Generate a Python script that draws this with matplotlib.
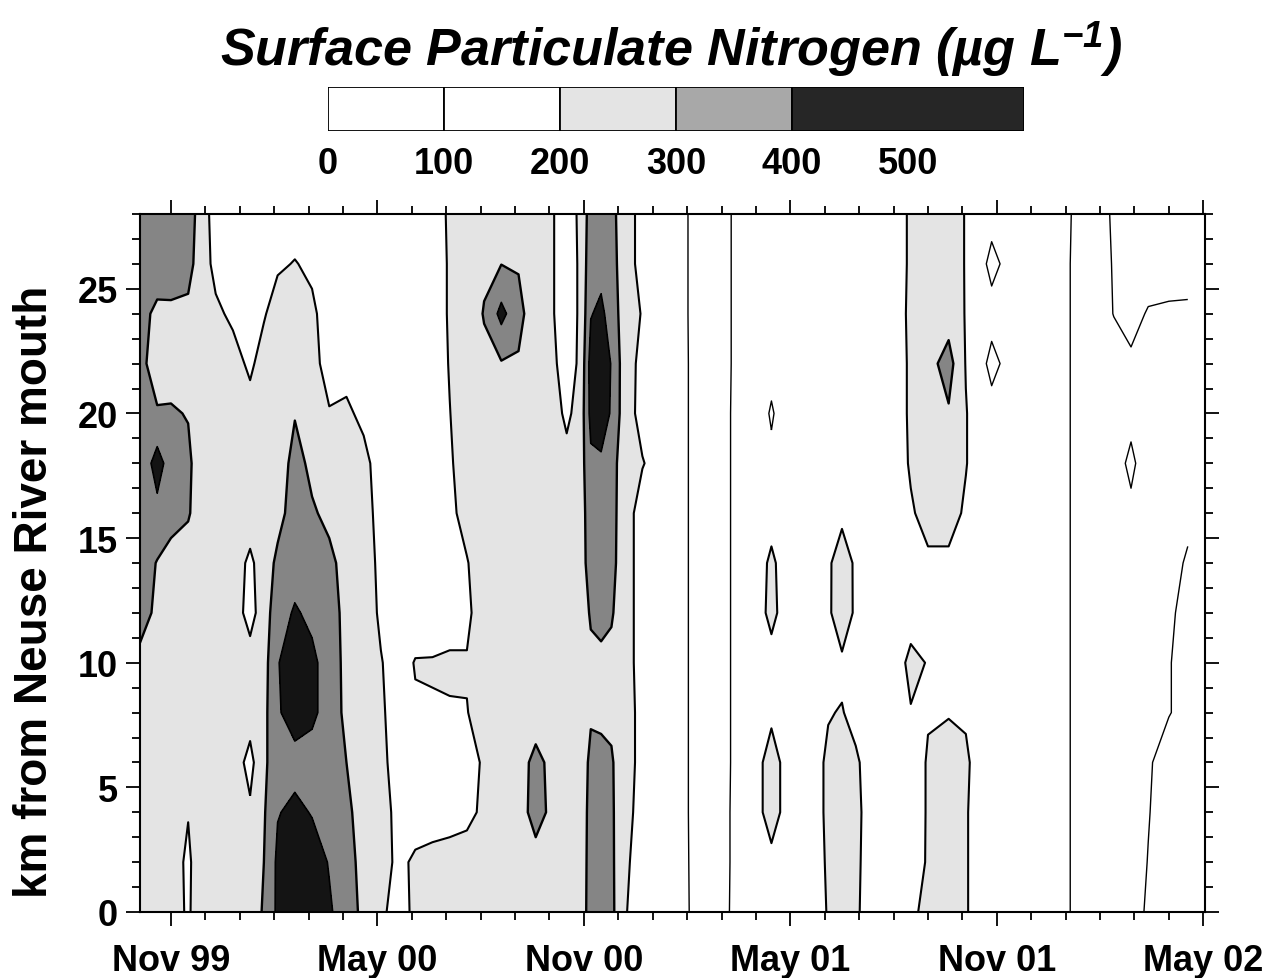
import numpy as np
import matplotlib
matplotlib.use('Agg')
import matplotlib.pyplot as plt
from matplotlib.ticker import MultipleLocator

plt.rcParams['font.family'] = ['Liberation Sans', 'DejaVu Sans']
plt.rcParams['mathtext.fontset'] = 'custom'
plt.rcParams['mathtext.rm'] = 'Liberation Sans:bold:italic'
plt.rcParams['mathtext.it'] = 'Liberation Sans:bold:italic'
plt.rcParams['mathtext.default'] = 'rm'

# survey dates, in months after 1 Nov 1999
months = [-0.9, -0.4, 0.0, 0.5, 0.8, 1.3, 1.8, 2.3, 2.7, 3.1, 3.6, 4.1, 4.6, 5.1, 5.6,
          6.1, 6.6, 7.1, 7.6, 8.1, 8.6, 9.1, 9.6, 10.1, 10.6, 11.1, 11.5, 11.9, 12.2,
          12.5, 12.8, 13.2, 13.7, 14.4, 15.1, 15.7, 16.3, 17.0, 17.45, 17.9, 18.5,
          19.1, 19.5, 19.9, 20.4, 21.0, 21.5, 22.0, 22.6, 23.1, 23.5, 23.85, 24.4,
          25.2, 26.1, 26.8, 27.4, 27.9, 28.4, 29.0, 29.55]

# stations, km from the river mouth
km = [0, 2, 4, 6, 8, 10, 12, 14, 16, 18, 20, 22, 24, 26, 28]

# surface PN (ug/L), one profile per survey, km 0 -> 28
profiles = [
    [250, 250, 250, 250, 250, 280, 330, 350, 360, 320, 330, 330, 330, 350, 360],
    [250, 250, 250, 250, 250, 255, 285, 295, 370, 445, 310, 250, 280, 350, 360],
    [250, 250, 250, 250, 250, 250, 250, 270, 330, 350, 310, 260, 285, 340, 350],
    [185, 180, 205, 250, 250, 250, 250, 250, 310, 320, 295, 250, 280, 330, 340],
    [250, 250, 250, 250, 250, 250, 250, 250, 260, 260, 255, 250, 250, 270, 280],
    [250, 250, 250, 250, 250, 250, 250, 250, 250, 250, 250, 250, 220, 170, 150],
    [250, 250, 250, 250, 250, 250, 250, 250, 250, 250, 250, 240, 180, 150, 150],
    [250, 250, 215, 170, 240, 240, 165, 180, 250, 250, 240, 180, 150, 150, 150],
    [310, 300, 290, 280, 270, 260, 250, 250, 250, 250, 250, 245, 190, 150, 150],
    [420, 420, 395, 360, 390, 395, 360, 320, 270, 250, 250, 250, 250, 185, 150],
    [480, 470, 420, 370, 440, 450, 410, 360, 340, 330, 295, 250, 250, 205, 150],
    [450, 440, 395, 360, 420, 420, 380, 340, 310, 280, 250, 225, 220, 180, 150],
    [410, 395, 370, 350, 360, 360, 345, 320, 280, 250, 205, 170, 150, 150, 150],
    [360, 340, 320, 300, 275, 270, 270, 270, 260, 250, 215, 170, 150, 150, 150],
    [270, 265, 260, 255, 250, 250, 250, 250, 240, 225, 180, 150, 150, 150, 150],
    [215, 230, 230, 225, 215, 205, 185, 175, 165, 160, 150, 150, 150, 150, 150],
    [170, 185, 180, 160, 155, 160, 150, 150, 150, 150, 150, 150, 150, 150, 150],
    [215, 210, 170, 160, 190, 205, 150, 150, 150, 150, 150, 150, 150, 150, 150],
    [240, 220, 170, 160, 195, 205, 160, 150, 150, 150, 150, 150, 150, 150, 150],
    [250, 225, 175, 165, 195, 210, 170, 165, 180, 190, 198, 205, 210, 210, 215],
    [250, 235, 180, 170, 198, 205, 185, 195, 230, 240, 245, 250, 250, 250, 250],
    [250, 250, 215, 210, 225, 250, 240, 250, 250, 250, 250, 280, 305, 285, 250],
    [260, 260, 260, 260, 260, 260, 260, 260, 260, 260, 260, 292, 430, 298, 260],
    [255, 255, 265, 270, 255, 250, 250, 250, 250, 250, 250, 290, 330, 292, 250],
    [250, 270, 330, 320, 265, 250, 250, 250, 250, 250, 245, 240, 240, 240, 240],
    [250, 260, 280, 280, 250, 250, 250, 250, 250, 250, 240, 220, 205, 205, 205],
    [250, 250, 250, 250, 250, 250, 250, 250, 250, 230, 180, 150, 150, 150, 150],
    [250, 250, 250, 250, 250, 250, 250, 250, 250, 255, 240, 220, 215, 215, 220],
    [340, 335, 330, 320, 290, 280, 310, 350, 360, 380, 430, 440, 395, 370, 350],
    [350, 345, 335, 320, 285, 285, 320, 360, 370, 385, 450, 460, 420, 370, 360],
    [325, 320, 315, 310, 280, 275, 310, 330, 335, 340, 390, 395, 360, 340, 330],
    [205, 215, 230, 240, 240, 240, 240, 240, 240, 240, 240, 240, 240, 240, 240],
    [160, 160, 165, 170, 170, 160, 160, 160, 160, 205, 170, 175, 195, 170, 170],
    [150, 150, 150, 150, 150, 150, 150, 150, 150, 150, 150, 150, 150, 150, 150],
    [97, 96, 95, 95, 95, 95, 95, 95, 95, 95, 95, 95, 94, 94, 94],
    [70, 70, 70, 70, 70, 70, 70, 70, 70, 70, 70, 70, 70, 70, 70],
    [104, 103, 103, 102, 102, 102, 102, 102, 102, 102, 102, 101, 101, 101, 101],
    [150, 150, 150, 150, 150, 150, 150, 150, 150, 150, 150, 150, 150, 150, 150],
    [150, 160, 265, 265, 170, 160, 230, 220, 160, 120, 90, 130, 150, 150, 150],
    [150, 150, 150, 150, 150, 150, 150, 150, 150, 150, 150, 150, 150, 150, 150],
    [150, 150, 150, 150, 150, 150, 150, 150, 150, 150, 150, 150, 150, 150, 150],
    [205, 210, 215, 215, 195, 170, 180, 180, 150, 150, 150, 150, 150, 150, 150],
    [265, 270, 270, 260, 205, 180, 270, 265, 170, 150, 150, 150, 150, 150, 150],
    [215, 220, 225, 215, 170, 165, 180, 180, 150, 150, 150, 150, 150, 150, 150],
    [150, 150, 150, 150, 150, 150, 150, 150, 150, 150, 150, 150, 150, 150, 150],
    [150, 150, 150, 150, 150, 150, 150, 150, 150, 150, 150, 150, 150, 150, 150],
    [185, 175, 170, 170, 195, 224, 160, 165, 190, 210, 215, 215, 220, 215, 215],
    [220, 205, 205, 205, 196, 195, 170, 185, 230, 250, 260, 265, 250, 245, 245],
    [240, 240, 240, 235, 195, 170, 165, 180, 240, 255, 290, 340, 255, 245, 245],
    [210, 210, 210, 220, 185, 160, 155, 160, 185, 205, 205, 195, 195, 195, 195],
    [150, 150, 150, 150, 150, 150, 150, 150, 150, 150, 150, 150, 150, 150, 150],
    [150, 150, 150, 150, 150, 150, 150, 150, 150, 150, 150, 60, 150, 60, 150],
    [150, 150, 150, 150, 150, 150, 150, 150, 150, 150, 150, 150, 150, 150, 150],
    [150, 150, 150, 150, 150, 150, 150, 150, 150, 150, 150, 150, 150, 150, 150],
    [102, 102, 102, 102, 102, 102, 102, 102, 102, 102, 102, 102, 102, 102, 102],
    [60, 60, 60, 60, 60, 60, 60, 60, 60, 60, 60, 60, 60, 60, 80],
    [60, 60, 60, 60, 60, 60, 60, 60, 60, 70, 60, 70, 102, 105, 105],
    [70, 70, 70, 70, 70, 70, 70, 70, 85, 115, 80, 90, 120, 130, 130],
    [110, 102, 97, 92, 80, 70, 70, 70, 70, 60, 65, 70, 95, 130, 130],
    [130, 130, 130, 130, 97, 97, 92, 85, 70, 65, 65, 70, 90, 130, 130],
    [130, 130, 125, 125, 120, 120, 115, 105, 90, 70, 70, 75, 90, 125, 130],
]

levels = [0, 100, 200, 300, 400, 1000]
fills = ['white', 'white', '#e4e4e4', '#858585', '#141414']
line_levels = [100, 200, 300, 400]
line_widths = [1.0, 1.5, 1.7, 1.2]

tick_months = [0, 6, 12, 18, 24, 30]
tick_labels = ['Nov 99', 'May 00', 'Nov 00', 'May 01', 'Nov 01', 'May 02']
cbar_edges = [0, 100, 200, 300, 400, 600]
cbar_fills = ['white', 'white', '#e4e4e4', '#a8a8a8', '#262626']
cbar_labels = [0, 100, 200, 300, 400, 500]

W, H = 1276, 979
fig = plt.figure(figsize=(W / 100, H / 100), dpi=100)
ax = fig.add_axes([140 / W, 1 - 913 / H, (1205 - 140) / W, (913 - 215) / H])

Z = np.array(profiles).T
ax.contourf(months, km, Z, levels=levels, colors=fills)
ax.contour(months, km, Z, levels=line_levels, colors='black', linewidths=line_widths)

ax.set_xlim(-0.9, 30.05)
ax.set_ylim(0, 28)
ax.set_xticks(tick_months)
ax.set_xticklabels(tick_labels, fontsize=26, fontweight='bold')
ax.xaxis.set_minor_locator(MultipleLocator(1))
ax.set_yticks(range(0, 26, 5))
ax.set_yticklabels([str(v) for v in range(0, 26, 5)], fontsize=26, fontweight='bold')
ax.yaxis.set_minor_locator(MultipleLocator(1))
ax.tick_params(which='both', direction='out', top=True, right=True, width=1.3)
ax.tick_params(which='major', length=10)
ax.tick_params(which='minor', length=5.5)
ax.tick_params(axis='x', which='major', pad=12)
ax.tick_params(axis='y', which='major', pad=6)
for s in ax.spines.values():
    s.set_linewidth(1.5)

fig.text(35 / W, 1 - 592 / H, 'km from Neuse River mouth', rotation=90,
         ha='center', va='center', fontsize=33, fontweight='bold')
fig.text(671 / W, 1 - 50 / H, 'Surface Particulate Nitrogen (\u00b5g L$^{-1}$)',
         ha='center', va='center', fontsize=37.5, fontweight='bold', fontstyle='italic')

# legend bar
cax = fig.add_axes([328 / W, 1 - 132 / H, (1024 - 328) / W, 44 / H])
for i in range(len(cbar_edges) - 1):
    cax.bar(cbar_edges[i], 1, width=cbar_edges[i + 1] - cbar_edges[i], align='edge',
            color=cbar_fills[i], edgecolor='black', linewidth=1.3)
cax.set_xlim(0, 600)
cax.set_ylim(0, 1)
cax.axis('off')
for v in cbar_labels:
    cax.text(v, -0.75, str(v), transform=cax.get_xaxis_transform(), ha='center',
             va='center', fontsize=26, fontweight='bold')

fig.savefig('out.png', dpi=100)
